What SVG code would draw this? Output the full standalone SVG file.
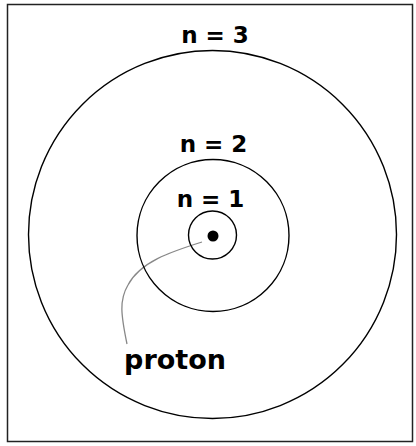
<svg xmlns="http://www.w3.org/2000/svg" width="416" height="446" viewBox="0 0 416 446">
<style>
.orbit{fill:none;stroke:#000;stroke-width:1.4}
.lbl{font-family:"DejaVu Sans",sans-serif;font-weight:bold;fill:#000;text-anchor:middle}
</style>
<rect x="0" y="0" width="416" height="446" fill="#fff"/>
<rect x="7.5" y="4.5" width="405" height="437" fill="none" stroke="#222" stroke-width="1.5"/>
<g id="connectors">
<path d="M202 242 C170 252 140 262 128 285 C119 300 121 315 127 344" fill="none" stroke="#888" stroke-width="1.3"/>
</g>
<g id="orbit3"><circle class="orbit" cx="212.5" cy="234.5" r="184"/><text class="lbl" x="215" y="43" font-size="23">n = 3</text></g>
<g id="orbit2"><circle class="orbit" cx="213" cy="235.5" r="76"/><text class="lbl" x="213.5" y="152" font-size="23">n = 2</text></g>
<g id="orbit1"><circle class="orbit" cx="212.5" cy="235" r="24"/><text class="lbl" x="210.5" y="207" font-size="23">n = 1</text></g>
<g id="proton"><circle cx="213" cy="236" r="5.5" fill="#000"/><text class="lbl" x="175" y="369" font-size="27">proton</text></g>
</svg>
